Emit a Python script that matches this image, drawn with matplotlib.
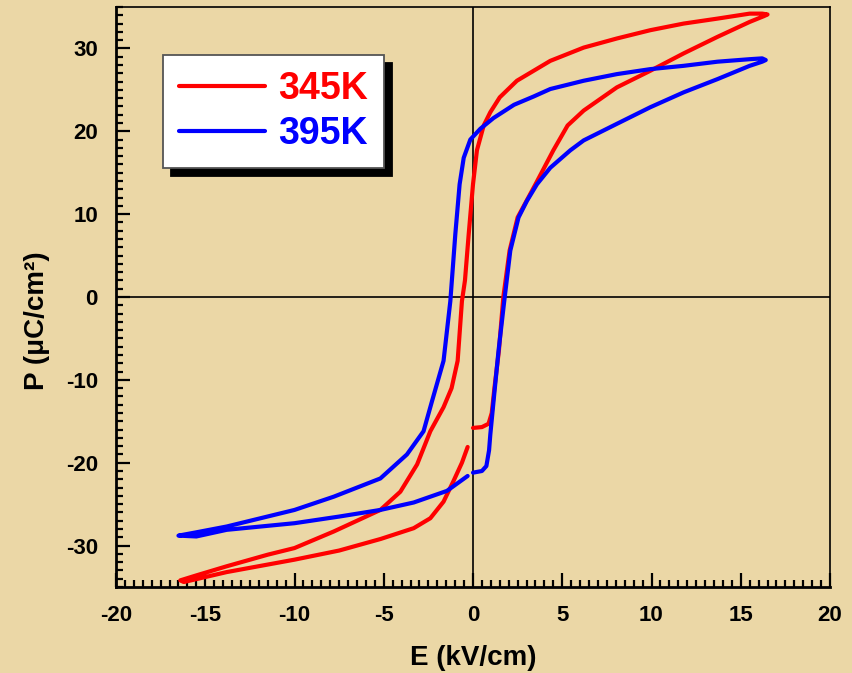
import matplotlib
matplotlib.use("Agg")
import matplotlib.pyplot as plt
from matplotlib.ticker import MultipleLocator

plt.rcParams['font.family'] = ['Liberation Sans', 'DejaVu Sans']
plt.rcParams['font.weight'] = 'bold'
plt.rcParams['axes.unicode_minus'] = False

# ---- data ----
labels = ["345K", "395K"]
colors = ["#FF0000", "#0000FF"]

E_345 = [0.0, 0.5, 0.87, 1.05, 1.2, 1.45, 1.7, 2.05, 2.5, 3.0, 3.5, 4.5, 5.3, 6.2, 8.06,
         9.93, 11.8, 13.7, 15.5, 16.3, 16.5, 16.2, 15.5, 13.7, 11.8, 9.93, 8.06, 6.2, 4.33,
         2.46, 1.5, 0.97, 0.6, 0.22, 0.0, -0.24, -0.45, -0.62, -0.86, -1.2, -1.65, -2.39,
         -3.13, -4.07, -5.19, -7.8, -10.0, -11.5, -13.8, -15.5, -16.4, -16.2, -13.8, -10.0,
         -7.5, -5.17, -3.32, -2.39, -1.65, -1.09, -0.62, -0.3]
P_345 = [-15.8, -15.7, -15.3, -14.0, -11.0, -6.5, 0.0, 5.6, 9.6, 11.6, 13.6, 17.7, 20.7,
         22.5, 25.3, 27.3, 29.4, 31.4, 33.2, 33.9, 34.1, 34.2, 34.2, 33.6, 33.0, 32.2, 31.2,
         30.1, 28.5, 26.1, 24.1, 22.3, 20.7, 17.7, 13.6, 7.6, 2.0, -0.5, -7.7, -11.0, -13.3,
         -16.2, -20.2, -23.5, -25.7, -28.3, -30.3, -31.1, -32.5, -33.6, -34.2, -34.4, -33.2,
         -31.7, -30.6, -29.2, -27.9, -26.7, -24.7, -22.2, -20.0, -18.1]

E_395 = [0.0, 0.5, 0.75, 0.9, 0.97, 1.15, 1.43, 1.75, 2.09, 2.55, 3.02, 3.58, 4.33, 5.45,
         6.2, 8.06, 9.93, 11.8, 13.7, 15.5, 16.2, 16.4, 16.2, 15.5, 13.7, 11.8, 9.93, 8.06,
         6.2, 4.33, 3.4, 2.3, 1.15, 0.41, -0.15, -0.52, -0.75, -0.99, -1.27, -1.65, -2.3,
         -2.77, -3.7, -5.19, -7.8, -10.0, -13.8, -15.5, -16.5, -15.5, -13.8, -10.0, -7.5,
         -5.19, -3.32, -1.46, -0.3]
P_395 = [-21.2, -21.0, -20.4, -18.5, -16.6, -12.6, -6.5, -0.5, 5.6, 9.6, 11.6, 13.6, 15.6,
         17.7, 18.9, 20.9, 22.9, 24.7, 26.3, 27.9, 28.4, 28.6, 28.8, 28.7, 28.4, 27.9, 27.5,
         26.9, 26.1, 25.1, 24.2, 23.2, 21.6, 20.3, 19.0, 16.8, 13.6, 7.6, -0.5, -7.7, -12.6,
         -16.2, -19.0, -21.9, -24.1, -25.7, -27.7, -28.4, -28.8, -28.9, -28.1, -27.3, -26.5,
         -25.7, -24.8, -23.4, -21.6]

x_ticks = [-20, -15, -10, -5, 0, 5, 10, 15, 20]
y_ticks = [-30, -20, -10, 0, 10, 20, 30]
xlabel = "E (kV/cm)"
ylabel = "P (\u03bcC/cm\u00b2)"

# ---- figure ----
bg = "#EBD7A6"
fig = plt.figure(figsize=(8.52, 6.73), dpi=100, facecolor=bg)
ax = fig.add_axes([116/852, 86/673, 714/852, 580/673])
ax.set_facecolor("none")

ax.axhline(0, color="black", lw=1.2, zorder=1)
ax.axvline(0, color="black", lw=1.2, zorder=1)

ax.plot(E_345, P_345, color=colors[0], lw=3.0, label=labels[0], zorder=3,
        solid_joinstyle="round", solid_capstyle="round")
ax.plot(E_395, P_395, color=colors[1], lw=3.0, label=labels[1], zorder=3,
        solid_joinstyle="round", solid_capstyle="round")

ax.set_xlim(-20, 20)
ax.set_ylim(-35, 35)
ax.set_xticks(x_ticks)
ax.set_yticks(y_ticks)
ax.xaxis.set_minor_locator(MultipleLocator(0.5))
ax.yaxis.set_minor_locator(MultipleLocator(1))
ax.tick_params(which="both", direction="in", top=False, right=False, width=1.6,
               labelsize=16, color="black")
ax.tick_params(which="major", length=10, pad=13)
ax.tick_params(which="minor", length=5)
for lab in ax.get_xticklabels() + ax.get_yticklabels():
    lab.set_fontweight("bold")

ax.spines["left"].set_linewidth(2.0)
ax.spines["bottom"].set_linewidth(2.0)
ax.spines["top"].set_linewidth(1.2)
ax.spines["right"].set_linewidth(1.2)

ax.set_xlabel(xlabel, fontsize=20, fontweight="bold")
ax.set_ylabel(ylabel, fontsize=20, fontweight="bold")
ax.xaxis.set_label_coords(0.5, -0.1)
ax.yaxis.set_label_coords(-0.093, 0.46)

leg = ax.legend(loc="upper left", bbox_to_anchor=(47/714, 532/580), borderaxespad=0,
                fontsize=27, handlelength=2.3, handletextpad=0.35, labelspacing=0.25,
                borderpad=0.42, fancybox=False, framealpha=1, edgecolor="#555555",
                shadow={"ox": 6, "oy": -6, "facecolor": "black", "edgecolor": "black",
                        "alpha": 1})
leg.get_frame().set_linewidth(1.3)
for t, c in zip(leg.get_texts(), colors):
    t.set_color(c)
    t.set_fontweight("bold")
for h in leg.get_lines():
    h.set_linewidth(3.0)

fig.savefig("out.png", dpi=100, facecolor=bg)
